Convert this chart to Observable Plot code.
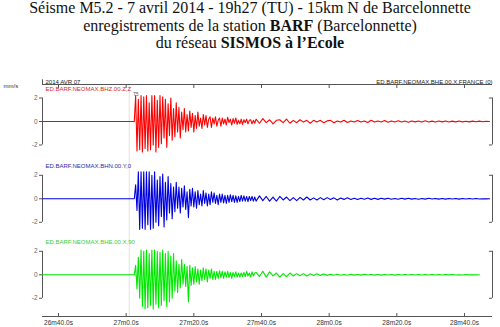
<!DOCTYPE html>
<html><head><meta charset="utf-8">
<script src="https://cdn.jsdelivr.net/npm/d3@7"></script>
<script src="https://cdn.jsdelivr.net/npm/@observablehq/plot@0.6"></script>
<style>
html,body{margin:0;padding:0;background:#fff;width:500px;height:327px;overflow:hidden;position:relative}
#title{position:absolute;left:0;top:-1px;width:500px;text-align:center;font-family:"Liberation Serif","Times New Roman",serif;font-size:16px;line-height:17.7px;color:#111}
#title div{height:17.7px;white-space:nowrap}
#chart{position:absolute;left:0;top:60px}
</style></head><body>
<div id="title"><div>Séisme M5.2 - 7 avril 2014 - 19h27 (TU) - 15km N de Barcelonnette</div><div>enregistrements de la station <b>BARF</b> (Barcelonnette)</div><div>du réseau <b>SISMOS à l’Ecole</b></div></div>
<div id="chart"></div>
<script>
// ---- data (seconds after 19h26m00s; amplitudes in mm/s) ----
const channels = ["ED.BARF.NEOMAX.BHZ.00.Z,Z", "ED.BARF.NEOMAX.BHN.00.Y,0", "ED.BARF.NEOMAX.BHE.00.X,90"];
const dateLabel = "2014 AVR 07";
const stationLabel = "ED.BARF.NEOMAX.BHE.00.X,FRANCE (0)";
const unitLabel = "mm/s";
const pickLabel = "T5";
const xTicks = [40, 60, 80, 100, 120, 140, 160];
const xTickLabels = ["26m40.0s", "27m0.0s", "27m20.0s", "27m40.0s", "28m0.0s", "28m20.0s", "28m40.0s"];
const ampTicks = [2, 0, -2];
const ampTickLabels = ["2", "0", "-2"];
const recordStart = 35.3;
const onset = 62.4;
const pickTime = 60.9;
const denseStep = 0.4;
const tailStart = 36;   // seconds after onset
const tailStep = 1.0;

const zDense = [0.0, 2.2, -2.5, 1.9, -2.4, 2.2, -2.6, 2.1, -2.3, 2.2,
  -2.5, 1.6, -2.4, 2.2, -2.0, 2.2, -2.6, 1.8, -2.2, 2.2,
  -1.9, 2.1, -1.4, 1.9, -2.2, 1.5, -1.2, 2.0, -1.6, 1.1,
  -1.3, 1.6, -0.9, 1.2, -1.4, 0.8, -0.7, 1.1, -0.9, 0.6,
  -0.8, 0.9, -0.5, 0.7, -0.9, 0.5, -0.6, 0.8, -0.4, 0.3,
  -0.6, 0.6, -0.3, 0.5, -0.5, 0.2, 0.4, -0.5, 0.3, -0.2,
  0.4, -0.4, 0.1, 0.3, -0.4, 0.3, -0.2, 0.2, -0.3, 0.35,
  -0.1, 0.2, -0.3, 0.25, -0.15, 0.3, -0.25, 0.1, -0.2, 0.2,
  -0.25, 0.15, -0.1, 0.2, -0.2, 0.1, 0.15, -0.2, 0.1, -0.15];
const zTail = [0.2, -0.15, 0.25, -0.1, 0.15, -0.2, 0.1, 0.15, -0.1, 0.2,
  -0.15, 0.1, -0.1, 0.15, -0.05, 0.1, -0.15, 0.1, -0.05, 0.1,
  -0.1, 0.05, 0.1, -0.1, 0.05, -0.05, 0.1, -0.08, 0.05, -0.05,
  0.08, -0.05, 0.05, -0.08, 0.1, -0.05, 0.05, -0.05, 0.08, -0.06,
  0.05, -0.04, 0.06, -0.05, 0.04, -0.06, 0.05, -0.03, 0.04, -0.05,
  0.06, -0.04, 0.03, -0.05, 0.04, -0.03, 0.05, -0.04, 0.03, -0.03,
  0.04, -0.03, 0.02, -0.03, 0.03, -0.02, 0.03, -0.02, 0.02, 0];

const nDense = [0.0, 1.2, -1.0, 2.3, -2.6, 2.3, -2.5, 2.3, -2.6, 2.3,
  -2.2, 2.3, -2.6, 2.0, -2.5, 2.3, -2.0, 1.6, -2.3, 1.9,
  -1.5, 2.1, -2.4, 1.4, -1.8, 1.9, -1.2, 1.3, -1.7, 1.0,
  -1.1, 1.4, -0.8, 1.0, -1.2, 0.9, -0.7, 1.1, -0.9, 0.6,
  -1.6, 0.8, -0.6, 0.9, -0.7, 0.6, -0.8, 0.7, -0.5, 0.4,
  -0.6, 0.7, -0.4, 0.5, -0.6, 0.4, -0.5, 0.6, -0.3, 0.5,
  -0.4, 0.3, -0.5, 0.4, -0.3, 0.4, -0.35, 0.3, -0.4, 0.3,
  -0.3, 0.35, -0.25, 0.3, -0.3, 0.25, -0.3, 0.2, -0.25, 0.3,
  -0.2, 0.25, -0.2, 0.2, -0.25, 0.2, -0.15, 0.2, -0.2, 0.15];
const nTail = [-0.2, 0.25, -0.15, 0.2, -0.2, 0.15, -0.2, 0.2, -0.1, 0.15,
  -0.15, 0.1, -0.15, 0.12, -0.1, 0.15, -0.1, 0.08, -0.1, 0.1,
  -0.08, 0.1, -0.06, 0.08, -0.1, 0.06, -0.05, 0.08, -0.06, 0.05,
  -0.06, 0.05, -0.04, 0.06, -0.05, 0.04, -0.05, 0.04, -0.03, 0.05,
  -0.04, 0.03, -0.04, 0.05, -0.03, 0.04, -0.03, 0.03, -0.04, 0.03,
  -0.03, 0.04, -0.02, 0.03, -0.03, 0.02, -0.03, 0.03, -0.02, 0.02,
  -0.03, 0.02, -0.02, 0.03, -0.02, 0.02, -0.02, 0.01, -0.01, 0];

const eDense = [0.0, 0.8, -1.2, 1.5, -2.0, 2.1, -2.7, 2.0, -2.9, 2.1,
  -2.8, 1.8, -2.6, 2.1, -2.9, 2.1, -2.5, 2.0, -2.8, 1.9,
  -2.6, 2.1, -2.2, 1.8, -2.7, 2.0, -2.3, 1.6, -2.0, 1.8,
  -1.4, 1.2, -1.5, 0.9, -1.1, 1.3, -0.8, 0.9, -1.0, 0.7,
  -2.3, 0.8, -0.9, 0.6, -0.8, 0.7, -0.6, 0.5, -0.8, 0.4,
  -0.5, 0.6, -0.4, 0.5, -0.6, 0.4, -0.3, 0.5, -0.4, 0.3,
  -0.4, 0.3, -0.3, 0.35, -0.25, 0.3, -0.3, 0.25, -0.2, 0.3,
  -0.25, 0.2, -0.3, 0.2, -0.15, 0.25, -0.2, 0.15, -0.2, 0.15,
  -0.15, 0.2, -0.15, 0.3, -0.1, 0.15, -0.2, 0.25, -0.1, 0.15];
const eTail = [0.2, -0.15, 0.3, -0.2, 0.25, -0.1, 0.15, -0.2, 0.1, -0.15,
  0.15, -0.1, 0.1, -0.08, 0.1, -0.1, 0.08, -0.06, 0.08, -0.05,
  0.06, -0.05, 0.05, -0.04, 0.05, -0.04, 0.03, -0.04, 0.05, -0.03,
  0.03, -0.03, 0.04, -0.02, 0.03, -0.03, 0.02, -0.03, 0.03, -0.02,
  0.02, -0.03, 0.02, -0.02, 0.03, -0.02, 0.02, -0.02, 0.02, -0.02,
  0.02, -0.02, 0.03, -0.02, 0.02, -0.02, 0.02, -0.01, 0.02, -0.02,
  0.01, -0.02, 0.02, -0.01, 0.01, -0.01, 0];

// ---- layout / style ----
const traceColors = ["#ff0000", "#0000e0", "#00e800"];
const labelColors = ["#d42a2a", "#2b2ba6", "#3ccc3c"];
const offsets = [0, -6.58, -13.05];   // vertical stacking of the three traces
const xDomain = [35.27, 168.28];
const yDomain = [-16.6, 3.15];

const series = [[zDense, zTail], [nDense, nTail], [eDense, eTail]];
const traces = series.map(([dense, tail], k) => {
  const rows = [{t: recordStart, a: 0}];
  dense.forEach((v, i) => rows.push({t: onset + i * denseStep, a: v}));
  tail.forEach((v, j) => rows.push({t: onset + tailStart + j * tailStep, a: v}));
  return rows.map(r => ({t: r.t, y: r.a + offsets[k]}));
});

const yTicks = [], yLabelMap = new Map();
offsets.forEach(o => ampTicks.forEach((a, i) => { const v = o + a; yTicks.push(v); yLabelMap.set(v, ampTickLabels[i]); }));
const xLabelMap = new Map(xTicks.map((t, i) => [t, xTickLabels[i]]));

const bracket = offsets.map(o => ({lo: o + ampTicks[2], hi: o + ampTicks[0], mid: o}));
const labels = offsets.map((o, k) => ({t: xDomain[0], y: o + 2.8, text: channels[k], color: labelColors[k]}));
const axisGray = "#555";

const plot = Plot.plot({
  width: 500,
  height: 267,
  marginLeft: 42,
  marginRight: 8,
  marginTop: 24,
  marginBottom: 11,
  style: {fontFamily: "Liberation Sans, Arial, sans-serif", fontSize: "7px", color: "#444", background: "#fff"},
  x: {domain: xDomain},
  y: {domain: yDomain},
  marks: [
    Plot.ruleX([pickTime], {y1: yDomain[0], y2: yDomain[1], stroke: "#e2e2e2"}),
    Plot.ruleY([yDomain[1], yDomain[0]], {stroke: axisGray, strokeWidth: 1}),
    Plot.ruleX([xDomain[0]], {y1: yDomain[1], y2: yDomain[1] + 0.4, stroke: axisGray}),
    Plot.axisX({anchor: "top", ticks: xTicks, tickSize: -3, tickFormat: () => "", label: null, stroke: axisGray}),
    Plot.axisX({anchor: "bottom", ticks: xTicks, tickSize: -3, tickPadding: 7, fontSize: 6.6, tickFormat: d => xLabelMap.get(d), label: null, stroke: axisGray, fill: "#333"}),
    Plot.axisY({ticks: yTicks, tickSize: 3, tickPadding: 2, fontSize: 6.5, tickFormat: d => yLabelMap.get(d), label: null, stroke: axisGray, fill: "#666"}),
    Plot.ruleX(bracket, {x: xDomain[0], y1: "lo", y2: "hi", stroke: axisGray}),
    Plot.ruleX(bracket, {x: xDomain[1], y1: "lo", y2: "hi", stroke: axisGray}),
    Plot.ruleY(bracket, {y: "lo", x1: xDomain[1] - 0.9, x2: xDomain[1], stroke: axisGray}),
    Plot.ruleY(bracket, {y: "hi", x1: xDomain[1] - 0.9, x2: xDomain[1], stroke: axisGray}),
    ...traces.map((rows, k) => Plot.line(rows, {x: "t", y: "y", stroke: traceColors[k], strokeWidth: 1.1})),
    Plot.text(labels, {x: "t", y: "y", text: "text", fill: "color", textAnchor: "start", dx: 3, fontSize: 6}),
    Plot.text([unitLabel], {frameAnchor: "top-left", dx: -39, dy: -1, textAnchor: "start", fontSize: 6, fill: "#333"}),
    Plot.text([dateLabel], {frameAnchor: "top-left", dx: 3, dy: -4.5, textAnchor: "start", fontSize: 6, fill: "#222"}),
    Plot.text([stationLabel], {frameAnchor: "top-right", dx: 0, dy: -4.5, textAnchor: "end", fontSize: 6, fill: "#222"}),
    Plot.text([pickLabel], {x: onset, y: offsets[0] + 2.3, textAnchor: "start", dx: -1, fontSize: 4.5, fill: "#555"})
  ]
});
document.getElementById("chart").appendChild(plot);
</script>
</body></html>
